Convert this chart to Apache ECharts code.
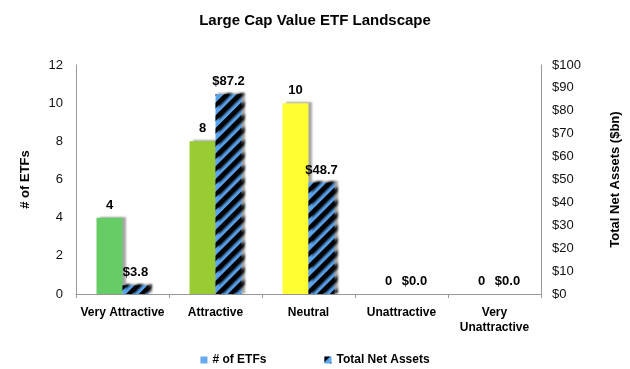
<!DOCTYPE html>
<html><head><meta charset="utf-8">
<script src="https://cdn.jsdelivr.net/npm/echarts@6/dist/echarts.min.js"></script>
<style>html,body{margin:0;padding:0;background:#fff}#c{width:630px;height:369px}</style>
</head><body><div id="c"></div>
<script>
const categories = ['Very Attractive', 'Attractive', 'Neutral', 'Unattractive', 'Very\nUnattractive'];
const etfCounts = [4, 8, 10, 0, 0];
const netAssets = [3.8, 87.2, 48.7, 0.0, 0.0];
const barColors = ['#66cc66', '#99cc33', '#ffff33', '#cccccc', '#cccccc'];
const leftTicks = {min: 0, max: 12, interval: 2};
const rightTicks = {min: 0, max: 100, interval: 10};

const FONT = 'Liberation Sans, Arial, sans-serif';
const chart = echarts.init(document.getElementById('c'));
const shadow = {shadowColor: 'rgba(0,0,0,0.35)', shadowBlur: 2, shadowOffsetX: 3, shadowOffsetY: -1};
chart.setOption({
  animation: false,
  textStyle: {fontFamily: FONT},
  title: {text: 'Large Cap Value ETF Landscape', left: 'center', top: 8,
    textStyle: {fontFamily: FONT, fontSize: 15, fontWeight: 'bold', color: '#000'}},
  grid: {left: 76, right: 87, top: 65, bottom: 75},
  legend: {bottom: -2, left: 'center', itemWidth: 7, itemHeight: 7, itemGap: 58,
    textStyle: {fontFamily: FONT, fontSize: 12, fontWeight: 'bold', color: '#000'},
    data: [{name: '# of ETFs', icon: 'rect'}, {name: 'Total Net Assets', icon: 'rect'}]},
  xAxis: {type: 'category', data: categories,
    axisLine: {lineStyle: {color: '#999'}},
    axisTick: {show: true, length: 4, lineStyle: {color: '#999'}},
    axisLabel: {fontFamily: FONT, fontSize: 12, fontWeight: 'bold', color: '#000', margin: 11, interval: 0, lineHeight: 15}},
  yAxis: [
    {type: 'value', min: leftTicks.min, max: leftTicks.max, interval: leftTicks.interval,
      name: '# of ETFs', nameLocation: 'middle', nameGap: 44, nameRotate: 90,
      nameTextStyle: {fontFamily: FONT, fontSize: 13, fontWeight: 'bold', color: '#000'},
      axisLine: {show: true, lineStyle: {color: '#999'}}, axisTick: {show: false}, splitLine: {show: false},
      axisLabel: {fontFamily: FONT, fontSize: 13, color: '#111', margin: 13}},
    {type: 'value', min: rightTicks.min, max: rightTicks.max, interval: rightTicks.interval,
      name: 'Total Net Assets ($bn)', nameLocation: 'middle', nameGap: 68, nameRotate: 90,
      nameTextStyle: {fontFamily: FONT, fontSize: 13, fontWeight: 'bold', color: '#000'},
      axisLine: {show: true, lineStyle: {color: '#999'}}, axisTick: {show: false}, splitLine: {show: false},
      axisLabel: {fontFamily: FONT, fontSize: 13, color: '#111', margin: 11, formatter: v => '$' + v}}
  ],
  series: [
    {name: '# of ETFs', type: 'bar', yAxisIndex: 0, barWidth: 26, barGap: '0%',
      itemStyle: Object.assign({color: '#66aaee'}, shadow),
      data: etfCounts.map((v, i) => ({value: v, itemStyle: {color: barColors[i]}})),
      label: {show: true, position: 'top', distance: 6, fontFamily: FONT, fontSize: 13, fontWeight: 'bold', color: '#000'}},
    {name: 'Total Net Assets', type: 'bar', yAxisIndex: 1, barWidth: 26,
      itemStyle: Object.assign({color: '#5aa5f0',
        decal: {symbol: 'rect', color: '#000', dashArrayX: [1, 0], dashArrayY: [4, 5], rotation: -Math.PI / 4}}, shadow),
      data: netAssets,
      label: {show: true, position: 'top', distance: 6, fontFamily: FONT, fontSize: 13, fontWeight: 'bold', color: '#000',
        formatter: p => '$' + p.value.toFixed(1)}}
  ]
});
</script></body></html>
